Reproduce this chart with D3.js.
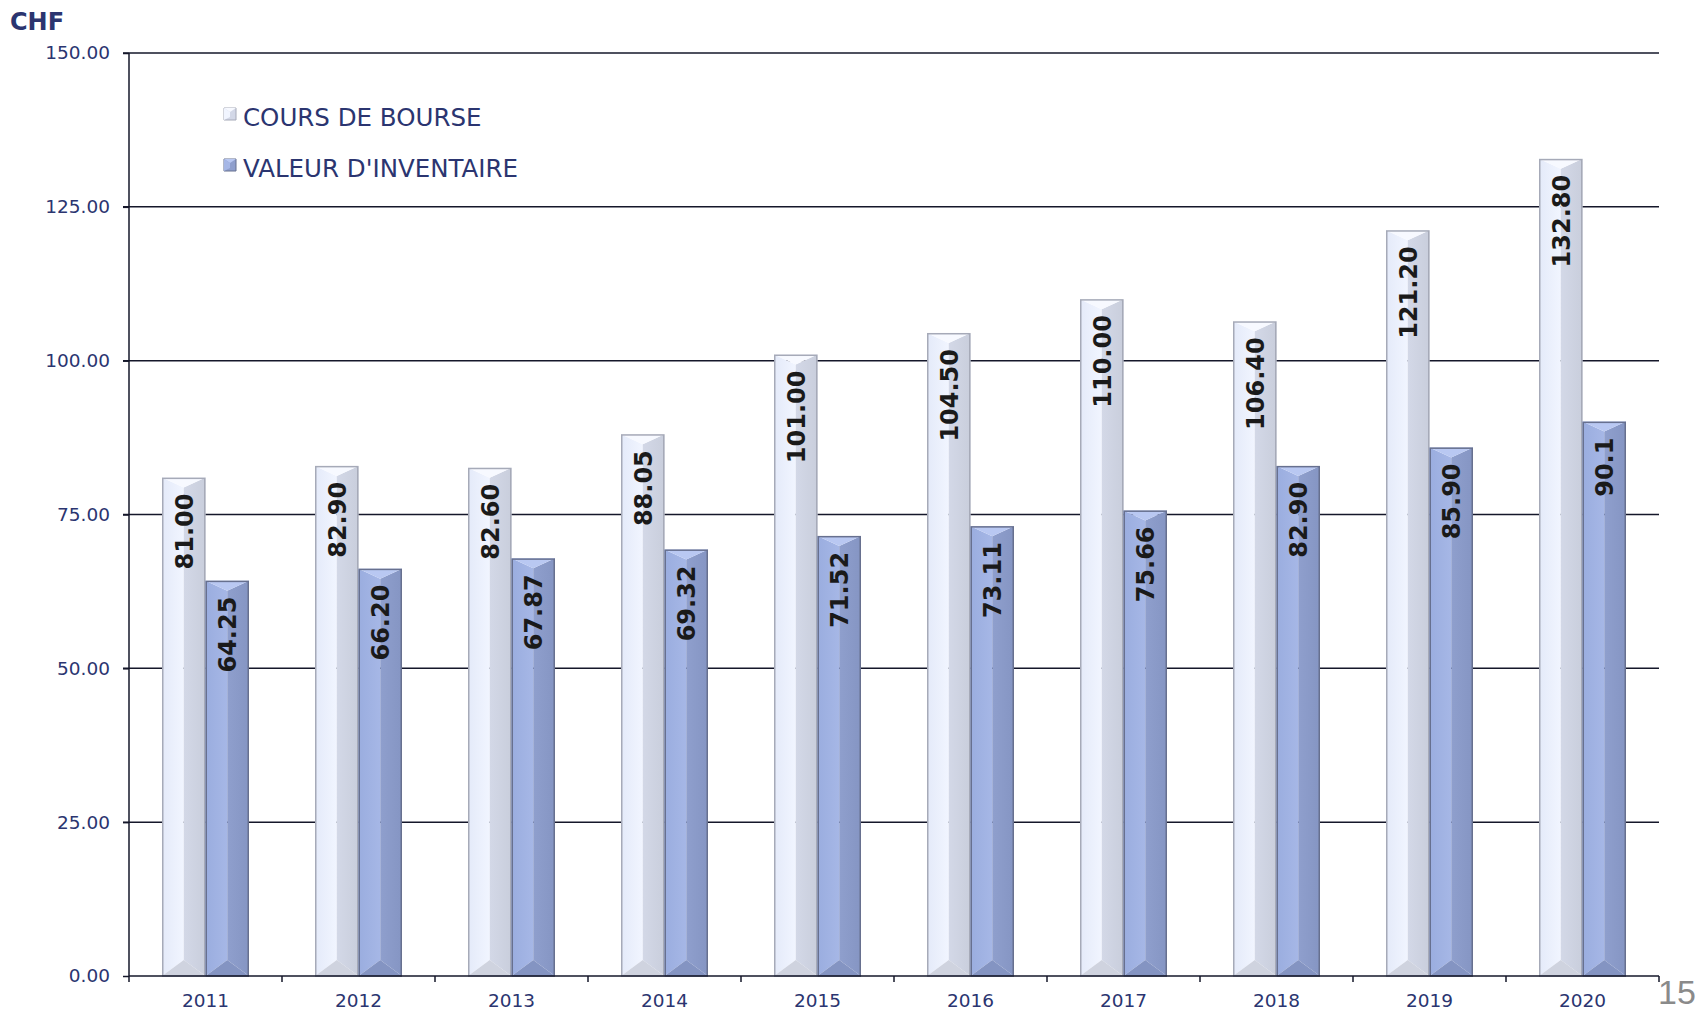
<!DOCTYPE html>
<html><head><meta charset="utf-8">
<script src="https://cdn.jsdelivr.net/npm/d3@7"></script>
<style>
html,body{margin:0;padding:0;background:#fff;}
svg{display:block;}
</style></head>
<body>
<svg id="chart" width="1697" height="1013"></svg>
<script>
const years = ["2011","2012","2013","2014","2015","2016","2017","2018","2019","2020"];
const seriesNames = ["COURS DE BOURSE","VALEUR D'INVENTAIRE"];
const coursValues = [81.00, 82.90, 82.60, 88.05, 101.00, 104.50, 110.00, 106.40, 121.20, 132.80];
const valeurValues = [64.25, 66.20, 67.87, 69.32, 71.52, 73.11, 75.66, 82.90, 85.90, 90.1];
const coursLabels = ["81.00","82.90","82.60","88.05","101.00","104.50","110.00","106.40","121.20","132.80"];
const valeurLabels = ["64.25","66.20","67.87","69.32","71.52","73.11","75.66","82.90","85.90","90.1"];
const yTicks = [0, 25, 50, 75, 100, 125, 150];

(function(){
const svg = d3.select("#chart");
const pLeft = 129, pRight = 1659, pTop = 53, pBottom = 976;
const navy = "#2b3570";
const font = "'DejaVu Sans', Verdana, sans-serif";

const y = d3.scaleLinear().domain([0,150]).range([pBottom, pTop]);
const x0 = d3.scaleBand().domain(years).range([pLeft, pRight]).padding(0);
const x1 = d3.scaleBand().domain(seriesNames).range([33, 120]);

const styles = {
  "COURS DE BOURSE": {top:"#f7f9ff", leftA:"#e4eaf9", leftB:"#f1f5ff", right:"#d3d8e7", rightB:"#c9cedc", bot:"#cfd3df", stroke:"#a6aab8"},
  "VALEUR D'INVENTAIRE": {top:"#b9c8f2", leftA:"#9aaddf", leftB:"#a6b7e6", right:"#8f9fcd", rightB:"#8595c3", bot:"#8494c2", stroke:"#67708f"}
};

const defs = svg.append("defs");
Object.entries(styles).forEach(([k,s],i)=>{
  const gl = defs.append("linearGradient").attr("id","gl"+i).attr("x1","0").attr("x2","1").attr("y1","0").attr("y2","0");
  gl.append("stop").attr("offset","0").attr("stop-color",s.leftA);
  gl.append("stop").attr("offset","1").attr("stop-color",s.leftB);
  const gr = defs.append("linearGradient").attr("id","gr"+i).attr("x1","0").attr("x2","1").attr("y1","0").attr("y2","0");
  gr.append("stop").attr("offset","0").attr("stop-color",s.right);
  gr.append("stop").attr("offset","1").attr("stop-color",s.rightB);
  s.idx = i;
});

// gridlines
svg.append("g").selectAll("line").data(yTicks.filter(d=>d>0)).join("line")
  .attr("x1", pLeft-6).attr("x2", pRight).attr("y1", d=>y(d)).attr("y2", d=>y(d))
  .attr("stroke","#15172a").attr("stroke-width",1.5);

// y axis
const yAxis = svg.append("g").attr("transform",`translate(${pLeft},0)`)
  .call(d3.axisLeft(y).tickValues(yTicks).tickFormat(d3.format(".2f")).tickSize(6).tickPadding(13));
yAxis.select(".domain").remove();
yAxis.selectAll("line").attr("stroke","#15172a").attr("stroke-width",1.5);
yAxis.selectAll("text").attr("fill",navy).style("font-family",font).style("font-size","18.5px");
svg.append("line").attr("x1",pLeft).attr("x2",pLeft).attr("y1",pTop).attr("y2",pBottom+6)
  .attr("stroke","#15172a").attr("stroke-width",1.5);

// bars
const data = [];
years.forEach((yr,i)=>{
  data.push({year:yr, s:seriesNames[0], v:coursValues[i], label:coursLabels[i]});
  data.push({year:yr, s:seriesNames[1], v:valeurValues[i], label:valeurLabels[i]});
});
const bars = svg.append("g").selectAll("g").data(data).join("g");
bars.each(function(d){
  const g = d3.select(this);
  const s = styles[d.s];
  const x = x0(d.year) + x1(d.s), w = x1.bandwidth();
  const t = y(d.v), b = y(0);
  const m = x + w/2, dt = 10, db = 16;
  g.append("polygon").attr("points",`${x},${t} ${m},${t+dt} ${m},${b-db} ${x},${b}`).attr("fill",`url(#gl${s.idx})`);
  g.append("polygon").attr("points",`${x+w},${t} ${m},${t+dt} ${m},${b-db} ${x+w},${b}`).attr("fill",`url(#gr${s.idx})`);
  g.append("polygon").attr("points",`${x},${t} ${x+w},${t} ${m},${t+dt}`).attr("fill",s.top);
  g.append("polygon").attr("points",`${x},${b} ${x+w},${b} ${m},${b-db}`).attr("fill",s.bot);
  g.append("rect").attr("x",x+0.75).attr("y",t+0.75).attr("width",w-1.5).attr("height",b-t-0.75)
    .attr("fill","none").attr("stroke",s.stroke).attr("stroke-width",1.5);
  g.append("text").attr("transform",`translate(${m+9},${t+16}) rotate(-90)`)
    .attr("text-anchor","end").attr("fill","#1a1a1a")
    .style("font-family",font).style("font-weight","bold").style("font-size","24px")
    .text(d.label);
});

// x axis
svg.append("line").attr("x1",pLeft).attr("x2",pRight).attr("y1",pBottom).attr("y2",pBottom)
  .attr("stroke","#15172a").attr("stroke-width",1.5);
const bounds = years.map(yr=>x0(yr)).concat([pRight]);
svg.append("g").selectAll("line").data(bounds.slice(1)).join("line")
  .attr("x1",d=>d).attr("x2",d=>d).attr("y1",pBottom).attr("y2",pBottom+6)
  .attr("stroke","#15172a").attr("stroke-width",1.5);
const xAxis = svg.append("g").attr("transform",`translate(0,${pBottom})`)
  .call(d3.axisBottom(x0).tickSize(0).tickPadding(18));
xAxis.select(".domain").remove();
xAxis.selectAll("text").attr("fill",navy).style("font-family",font).style("font-size","18.5px");

// unit label
svg.append("text").attr("x",10).attr("y",30).attr("fill",navy)
  .style("font-family",font).style("font-weight","bold").style("font-size","24px").text("CHF");

// legend
const leg = svg.append("g").selectAll("g").data(seriesNames).join("g")
  .attr("transform",(d,i)=>`translate(224,${108+i*51})`);
leg.each(function(d){
  const g = d3.select(this); const s = styles[d];
  g.append("polygon").attr("points","0,0 12,0 12,12 0,12").attr("fill",s.right).attr("stroke",s.stroke);
  g.append("polygon").attr("points","0,0 12,0 6,4").attr("fill",s.top);
  g.append("polygon").attr("points","0,0 6,4 6,9 0,12").attr("fill",s.leftB);
  g.append("text").attr("x",19).attr("y",18).attr("fill",navy)
    .style("font-family",font).style("font-size","24.5px").text(d);
});

// page number
svg.append("text").attr("x",1658).attr("y",1004).attr("fill","#8a8a8a")
  .style("font-family","'Liberation Sans', Arial, sans-serif").style("font-size","34px").text("15");
})();
</script>
</body></html>
